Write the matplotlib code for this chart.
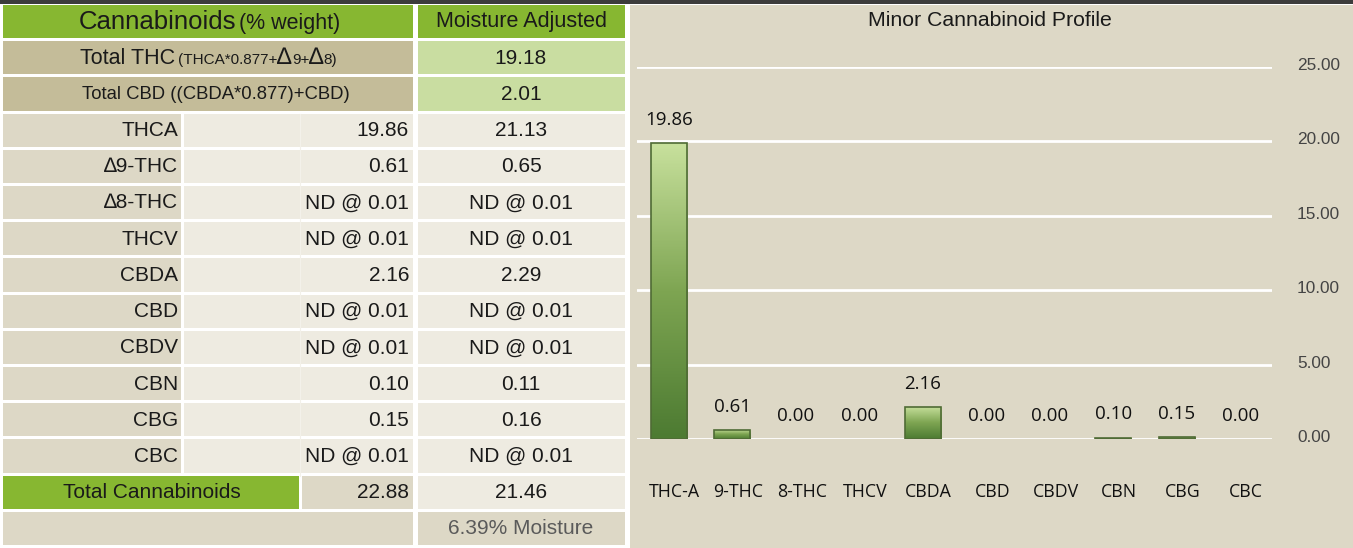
import matplotlib
matplotlib.use("Agg")
from matplotlib import pyplot as plt
from matplotlib.colors import LinearSegmentedColormap
from matplotlib.transforms import ScaledTranslation
import numpy as np

# table data
row_names = ['THCA', '\u22069-THC', '\u22068-THC', 'THCV', 'CBDA', 'CBD', 'CBDV', 'CBN', 'CBG', 'CBC']
weight_vals = ['19.86', '0.61', 'ND @ 0.01', 'ND @ 0.01', '2.16', 'ND @ 0.01',
               'ND @ 0.01', '0.10', '0.15', 'ND @ 0.01']
adjusted_vals = ['21.13', '0.65', 'ND @ 0.01', 'ND @ 0.01', '2.29', 'ND @ 0.01',
                 'ND @ 0.01', '0.11', '0.16', 'ND @ 0.01']
total_thc = '19.18'
total_cbd = '2.01'
total_weight = '22.88'
total_adjusted = '21.46'
moisture = '6.39% Moisture'

# chart data
categories = ['THC-A', '9-THC', '8-THC', 'THCV', 'CBDA', 'CBD', 'CBDV', 'CBN', 'CBG', 'CBC']
values = [19.86, 0.61, 0.00, 0.00, 2.16, 0.00, 0.00, 0.10, 0.15, 0.00]
yticks = [0, 5, 10, 15, 20, 25]

W, H = 1353, 548
SANS = ['Liberation Sans', 'DejaVu Sans']
CHART = ['Open Sans', 'DejaVu Sans']
GREEN = '#87b731'
TAN = '#c4bc99'
LGREEN = '#c9dda1'
BEIGE = '#ddd8c6'
LIGHT = '#eeebe1'

fig = plt.figure(figsize=(W / 100, H / 100), dpi=100)
fig.patch.set_facecolor('white')
renderer = fig.canvas.get_renderer()

bg = fig.add_axes([0, 0, 1, 1])
bg.set_xlim(0, W)
bg.set_ylim(H, 0)
bg.axis('off')


def cell(x0, x1, r, color):
    y0 = 5 + r * 36.2
    bg.add_patch(plt.Rectangle((x0, y0), x1 - x0, 33.2, color=color, lw=0))
    return y0 + 17


def txt(x, y, s, size=15, ha='center', color='#1a1a1a'):
    return bg.text(x, y, s, fontsize=size, ha=ha, va='center', color=color, family=SANS)


# top dark strip and chart panel
bg.add_patch(plt.Rectangle((0, 0), W, 4, color='#3c3c3c', lw=0))
bg.add_patch(plt.Rectangle((630, 5), W - 630, H - 5, color=BEIGE, lw=0))

# header
y = cell(3, 413, 0, GREEN)
cell(418, 625, 0, GREEN)
txt(236, y, 'Cannabinoids', 18.5, ha='right')
txt(239, y + 1, '(% weight)', 15.5, ha='left')
txt(522, y, 'Moisture Adjusted', 15.5)

# totals
y = cell(3, 413, 1, TAN)
cell(418, 625, 1, LGREEN)
txt(175, y, 'Total THC', 15.5, ha='right')
xpos = 178
for piece, size, dy in [('(THCA*0.877+', 11, 1.5), ('\u2206', 17, 0), ('9+', 11, 1.5),
                        ('\u2206', 17, 0), ('8)', 11, 1.5)]:
    t = txt(xpos, y + dy, piece, size, ha='left')
    xpos = t.get_window_extent(renderer).x1
txt(521, y, total_thc, 15)

y = cell(3, 413, 2, TAN)
cell(418, 625, 2, LGREEN)
txt(216, y, 'Total CBD ((CBDA*0.877)+CBD)', 13.3)
txt(521, y, total_cbd, 15)

# faint split inside the value column
bg.plot([300, 300], [5 + 3 * 36.2, 5 + 13 * 36.2], color='#f3f1ea', lw=0.8, zorder=1.5)

# cannabinoid rows
for i, name in enumerate(row_names):
    r = 3 + i
    y = cell(3, 181, r, BEIGE)
    cell(184, 413, r, LIGHT)
    cell(418, 625, r, LIGHT)
    txt(178, y, name, 15, ha='right')
    txt(409, y, weight_vals[i], 15, ha='right')
    txt(521, y, adjusted_vals[i], 15)

y = cell(3, 299, 13, GREEN)
cell(302, 413, 13, BEIGE)
cell(418, 625, 13, LIGHT)
txt(152, y, 'Total Cannabinoids', 15)
txt(409, y, total_weight, 15, ha='right')
txt(521, y, total_adjusted, 15)

y = cell(3, 413, 14, BEIGE)
cell(418, 625, 14, BEIGE)
txt(521, y, moisture, 15, color='#5a5a5a')

# chart
fig.text(990 / W, 1 - 20 / H, 'Minor Cannabinoid Profile', fontsize=15.3,
         ha='center', va='center', color='#1a1a1a', family=SANS)

ax = fig.add_axes([637 / W, (H - 439) / H, 635 / W, 372 / H])
ax.set_facecolor('none')
for s in ax.spines.values():
    s.set_visible(False)
for t in yticks:
    ax.axhline(t, color='white', lw=2, zorder=1)

x = np.arange(len(categories))
edges = ['#4f6b35' if v > 0 else 'none' for v in values]
bars = ax.bar(x, values, width=0.57, facecolor='none', edgecolor=edges, lw=1.2, zorder=3)
cmap = LinearSegmentedColormap.from_list('g', ['#4d7b32', '#7ea552', '#c7e09c'])
grad = np.linspace(0, 1, 100).reshape(-1, 1)
for b, v in zip(bars, values):
    if v <= 0:
        continue
    im = ax.imshow(grad, cmap=cmap, origin='lower', aspect='auto', zorder=2,
                   extent=[b.get_x(), b.get_x() + b.get_width(), 0, v])
    im.set_clip_path(b)
for xi, v in zip(x, values):
    ax.text(xi, v + 1.55, f'{v:.2f}', ha='center', va='center', fontsize=13.5,
            color='#111111', family=CHART)

ax.set_xlim(-0.5, len(categories) - 0.5)
ax.set_ylim(0, 25)
ax.set_xticks(x)
ax.set_xticklabels(categories, family=CHART, fontsize=12.8, color='#111111')
ax.set_yticks(yticks)
ax.set_yticklabels([f'{t:.2f}' for t in yticks], family=SANS, fontsize=12.4, color='#444444')
ax.yaxis.tick_right()
ax.tick_params(axis='x', length=0, pad=32)
ax.tick_params(axis='y', length=0, pad=18)
for lab in ax.get_yticklabels():
    lab.set_transform(lab.get_transform() + ScaledTranslation(0, 3 / 100, fig.dpi_scale_trans))
for lab in ax.get_xticklabels():
    lab.set_transform(lab.get_transform() + ScaledTranslation(6 / 100, 0, fig.dpi_scale_trans))

fig.savefig('out.png', dpi=100)
